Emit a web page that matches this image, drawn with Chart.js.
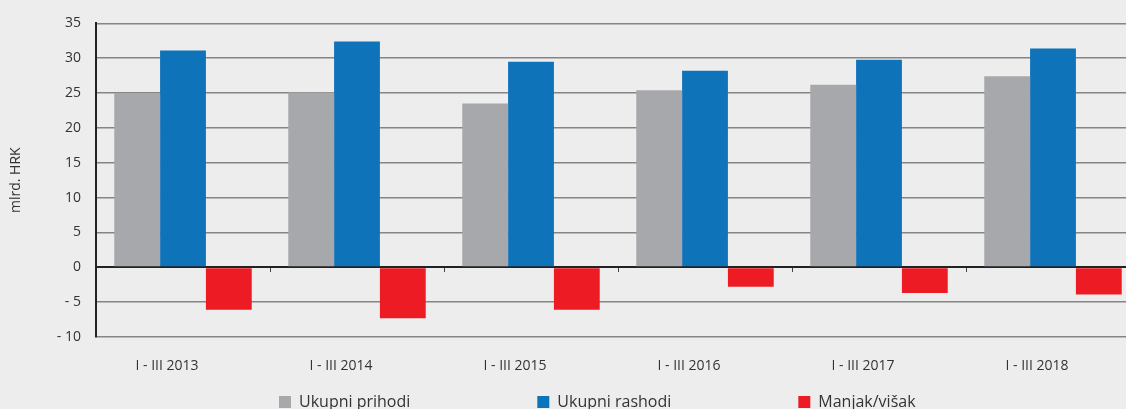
<!DOCTYPE html>
<html>
<head>
<meta charset="utf-8">
<script src="https://cdn.jsdelivr.net/npm/chart.js@4/dist/chart.umd.min.js"></script>
<style>
  html, body { margin: 0; padding: 0; background: #ededed; overflow: hidden; width: 1126px; height: 409px; }
  canvas { display: block; background: #ededed; }
</style>
</head>
<body>
<canvas id="c" width="1160" height="409"></canvas>
<script>
const categories = ['I - III 2013', 'I - III 2014', 'I - III 2015', 'I - III 2016', 'I - III 2017', 'I - III 2018'];
const ukupniPrihodi = [25.0, 25.1, 23.5, 25.4, 26.2, 27.4];
const ukupniRashodi = [31.1, 32.4, 29.5, 28.2, 29.8, 31.4];
const manjakVisak = [-6.1, -7.3, -6.1, -2.8, -3.7, -3.9];
const seriesNames = ['Ukupni prihodi', 'Ukupni rashodi', 'Manjak/višak'];
const yMin = -10, yMax = 35, yStep = 5;

const legendShift = {
  id: 'legendShift',
  afterLayout(chart) {
    const lg = chart.legend;
    if (!lg) return;
    const pad = lg.options.labels.padding;
    lg.left = 279 - pad;
    lg.top = 394 - pad;
  }
};

new Chart(document.getElementById('c'), {
  type: 'bar',
  data: {
    labels: categories,
    datasets: [
      { label: seriesNames[0], data: ukupniPrihodi, backgroundColor: '#a7a8ab' },
      { label: seriesNames[1], data: ukupniRashodi, backgroundColor: '#0f73ba' },
      { label: seriesNames[2], data: manjakVisak, backgroundColor: '#ed1c24' }
    ]
  },
  options: {
    responsive: false,
    animation: false,
    layout: { padding: { left: 0, right: 20, top: 23, bottom: 0 } },
    datasets: { bar: { categoryPercentage: 0.79, barPercentage: 1.0 } },
    scales: {
      x: {
        position: 'bottom',
        grid: { display: false },
        border: { display: false },
        ticks: {
          color: '#333',
          font: { family: 'Open Sans', size: 14 },
          padding: 13,
          labelOffset: -16,
          maxRotation: 0
        },
        afterFit: (s) => { s.height = 42; }
      },
      x0: {
        type: 'category',
        labels: categories,
        position: { y: 0 },
        offset: true,
        grid: { display: true, offset: true, drawOnChartArea: false, drawTicks: true, tickLength: 5, color: '#444', lineWidth: 1 },
        border: { display: false },
        ticks: { display: false }
      },
      y: {
        min: yMin,
        max: yMax,
        ticks: {
          stepSize: yStep,
          color: '#333',
          font: { family: 'Open Sans', size: 14 },
          padding: 15,
          callback: (v) => v < 0 ? '- ' + Math.abs(v) : String(v)
        },
        grid: {
          drawTicks: false,
          color: (ctx) => ctx.tick && ctx.tick.value === 0 ? '#222' : '#858585',
          lineWidth: (ctx) => ctx.tick && ctx.tick.value === 0 ? 2 : 1.5
        },
        border: { display: true, color: '#222', width: 2 },
        title: {
          display: true,
          text: 'mlrd. HRK',
          color: '#333',
          font: { family: 'Open Sans', size: 14 },
          padding: { top: 8, bottom: 0 }
        },
        afterFit: (s) => { s.width = 96; }
      }
    },
    plugins: {
      legend: {
        position: 'bottom',
        align: 'start',
        maxHeight: 30,
        labels: {
          boxWidth: 12,
          boxHeight: 12,
          padding: 127,
          color: '#333',
          font: { family: 'Open Sans', size: 16 }
        }
      },
      tooltip: { enabled: false }
    }
  },
  plugins: [legendShift]
});
</script>
</body>
</html>
